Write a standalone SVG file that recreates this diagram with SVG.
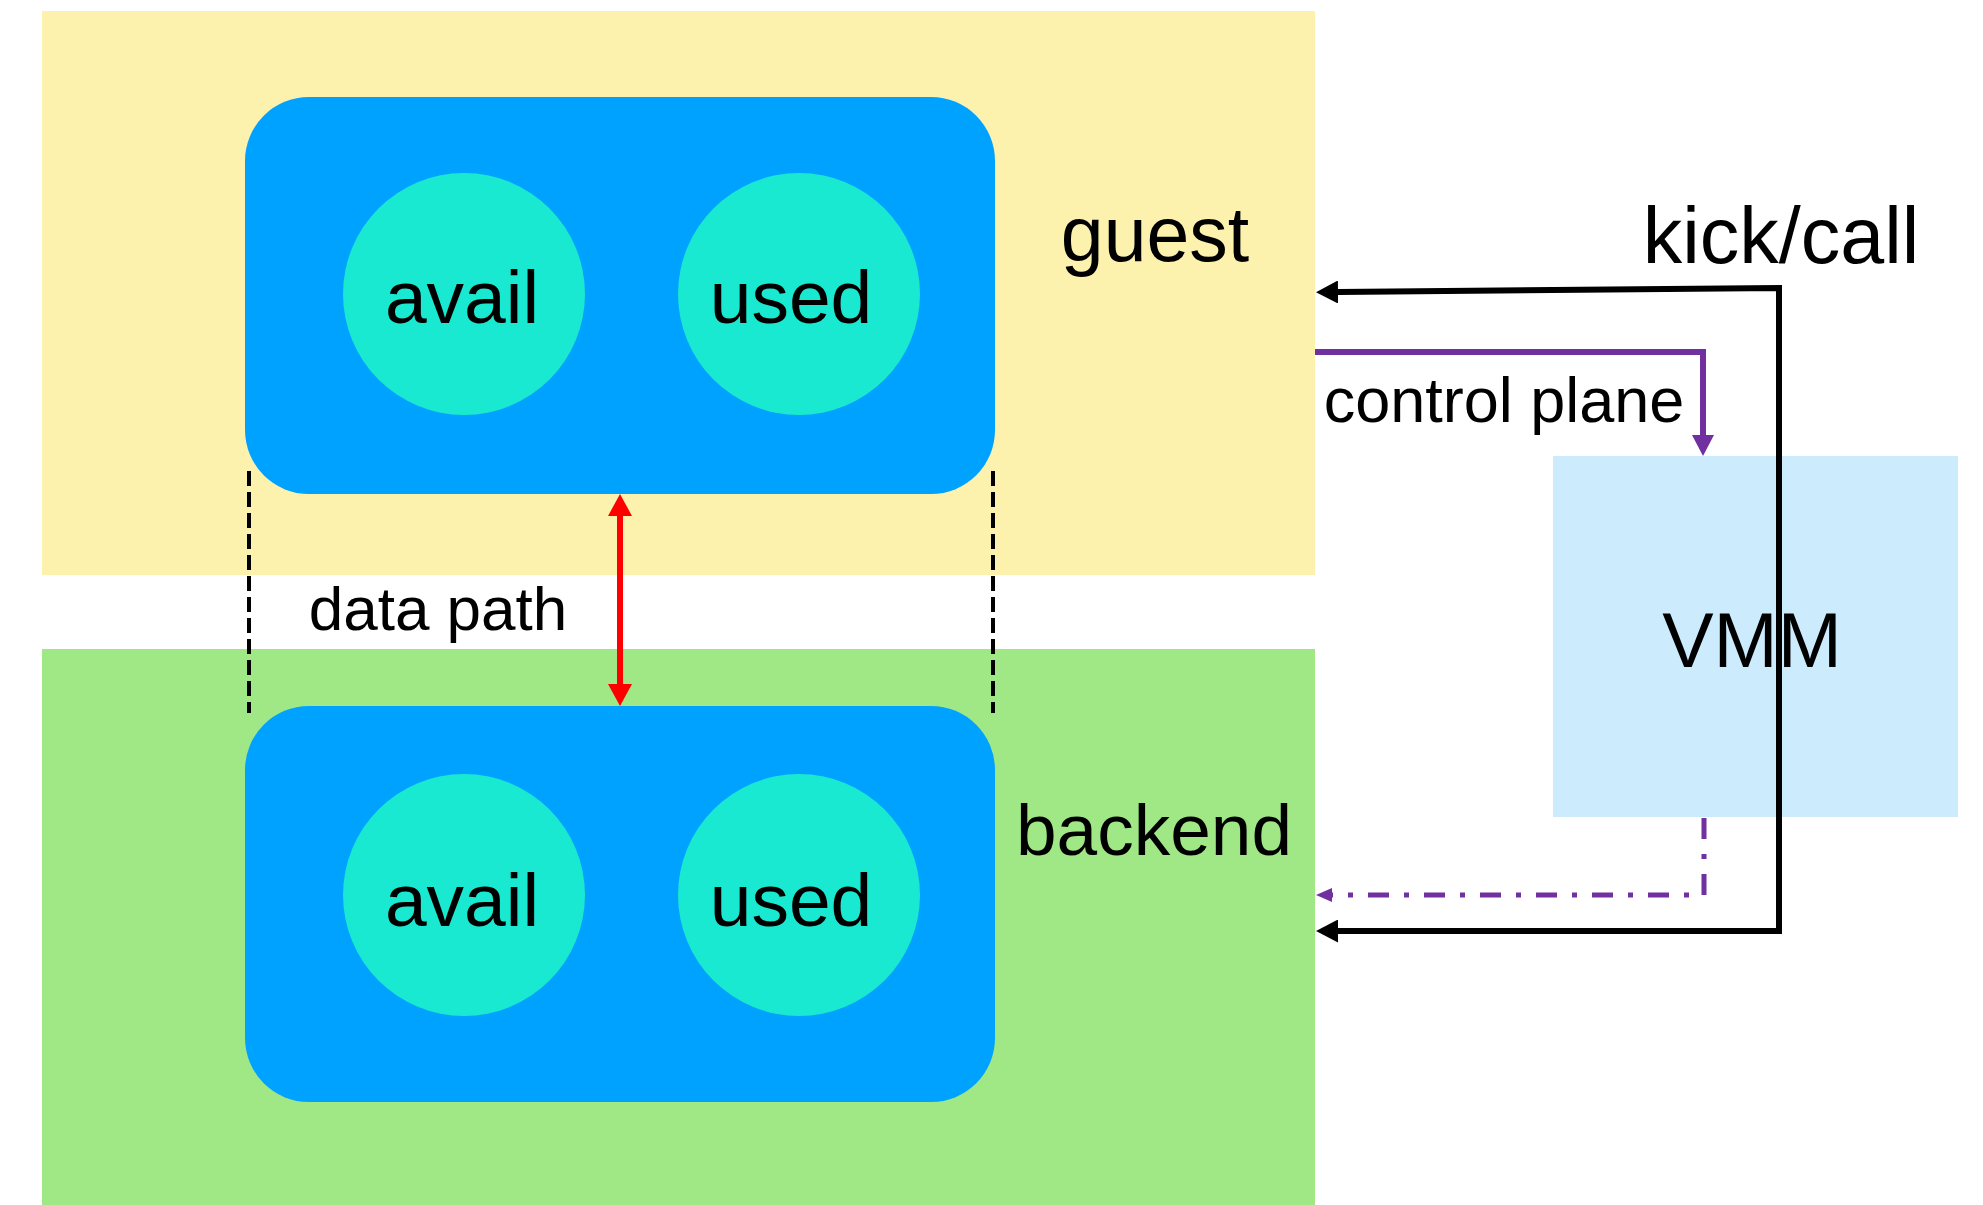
<svg xmlns="http://www.w3.org/2000/svg" width="1983" height="1205" viewBox="0 0 1983 1205">
  <style>
    .lbl { font-family: "Liberation Sans", Arial, Helvetica, sans-serif; fill: #000; text-anchor: middle; }
    .ring { fill: #00A2FF; }
    .q { fill: #18E9D0; }
    .big { font-size: 75px; }
    .zone { font-size: 77px; }
    .small { font-size: 62px; }
    .guide { stroke: #000; stroke-width: 4; stroke-dasharray: 15 6; fill: none; }
  </style>
  <defs>
    <marker id="ahBlack" markerUnits="userSpaceOnUse" markerWidth="22" markerHeight="23" refX="0" refY="11.5" orient="auto-start-reverse">
      <path d="M0,0 L22,11.5 L0,23 z" fill="#000"/>
    </marker>
    <marker id="ahPurple" markerUnits="userSpaceOnUse" markerWidth="21" markerHeight="22" refX="0" refY="11" orient="auto">
      <path d="M0,0 L21,11 L0,22 z" fill="#7030A0"/>
    </marker>
    <marker id="ahPurpleSmall" markerUnits="userSpaceOnUse" markerWidth="16" markerHeight="14" refX="0" refY="7" orient="auto">
      <path d="M0,0 L16,7 L0,14 z" fill="#7030A0"/>
    </marker>
    <marker id="ahRed" markerUnits="userSpaceOnUse" markerWidth="22" markerHeight="24" refX="0" refY="12" orient="auto-start-reverse">
      <path d="M0,0 L22,12 L0,24 z" fill="#FF0000"/>
    </marker>
  </defs>

  <rect width="1983" height="1205" fill="#FFFFFF"/>

  <!-- domains -->
  <g id="guest-zone">
    <rect x="42" y="11" width="1273" height="564" fill="#FCF2AE"/>
    <text class="lbl zone" x="1155" y="261">guest</text>
  </g>
  <g id="backend-zone">
    <rect x="42" y="649" width="1273" height="556" fill="#A0E886"/>
    <text class="lbl" font-size="73" x="1154" y="855">backend</text>
  </g>

  <g id="vmm">
    <rect x="1553" y="456" width="405" height="361" fill="#CCEBFD"/>
    <text class="lbl zone" x="1752" y="667">VMM</text>
  </g>

  <!-- guest-side virtqueue -->
  <g id="guest-queue">
    <rect class="ring" x="245" y="97" width="750" height="397" rx="64" ry="64"/>
    <circle class="q" cx="464" cy="294" r="121"/>
    <text class="lbl big" x="462" y="323">avail</text>
    <circle class="q" cx="799" cy="294" r="121"/>
    <text class="lbl big" x="791" y="323">used</text>
  </g>

  <!-- backend-side virtqueue -->
  <g id="backend-queue">
    <rect class="ring" x="245" y="706" width="750" height="396" rx="64" ry="64"/>
    <circle class="q" cx="464" cy="895" r="121"/>
    <text class="lbl big" x="462" y="926">avail</text>
    <circle class="q" cx="799" cy="895" r="121"/>
    <text class="lbl big" x="791" y="926">used</text>
  </g>

  <g id="labels">
    <text class="lbl small" x="438" y="630">data path</text>
    <text class="lbl" font-size="63" x="1504" y="422">control plane</text>
    <text class="lbl" font-size="79" x="1781" y="263">kick/call</text>
  </g>

  <!-- connectors -->
  <g id="connectors">
    <line class="guide" x1="249" y1="471" x2="249" y2="713"/>
    <line class="guide" x1="993" y1="471" x2="993" y2="713"/>

    <!-- shared memory data path -->
    <line x1="620" y1="516" x2="620" y2="684" stroke="#FF0000" stroke-width="6" marker-start="url(#ahRed)" marker-end="url(#ahRed)"/>

    <!-- control plane: guest to VMM -->
    <path d="M1315,352 L1703,352 L1703,435" fill="none" stroke="#7030A0" stroke-width="6" marker-end="url(#ahPurple)"/>

    <!-- VMM to backend -->
    <path d="M1704,818 L1704,895 L1332,895" fill="none" stroke="#7030A0" stroke-width="5" stroke-dasharray="21 15 5 15" marker-end="url(#ahPurpleSmall)"/>

    <!-- kick/call notifications -->
    <path d="M1338,292 L1779,288 L1779,931 L1338,931" fill="none" stroke="#000" stroke-width="6" stroke-linejoin="miter" marker-start="url(#ahBlack)" marker-end="url(#ahBlack)"/>
  </g>
</svg>
